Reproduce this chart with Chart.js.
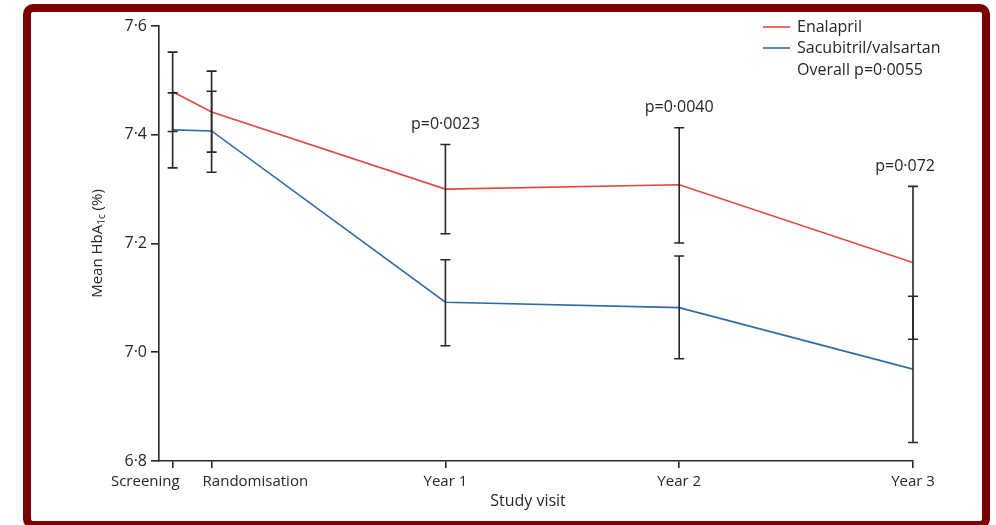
<!DOCTYPE html>
<html>
<head>
<meta charset="utf-8">
<script src="https://cdn.jsdelivr.net/npm/chart.js@4.4.1/dist/chart.umd.min.js"></script>
<style>
  html, body { margin: 0; padding: 0; background: #fff; }
  #wrap { position: relative; width: 996px; height: 525px; overflow: hidden; }
  #hba1cChart { position: absolute; left: 0; top: 0; }
  #frame {
    position: absolute; left: 23px; top: 4px; width: 967px; height: 525px;
    box-sizing: border-box; border: 8px solid #7b0000; border-radius: 10px;
    pointer-events: none;
  }
</style>
</head>
<body>
<div id="wrap">
  <canvas id="hba1cChart" width="996" height="525"></canvas>
  <div id="frame"></div>
</div>
<script>
// visits and their time from randomisation (months)
const visits = ['Screening', 'Randomisation', 'Year 1', 'Year 2', 'Year 3'];
const visitMonths = [-2, 0, 12, 24, 36];

// mean HbA1c (%) with 95% CI
const enalaprilMean  = [7.479, 7.442, 7.300, 7.308, 7.165];
const enalaprilLower = [7.406, 7.368, 7.218, 7.201, 7.024];
const enalaprilUpper = [7.552, 7.517, 7.382, 7.413, 7.305];

const sacubitrilMean  = [7.409, 7.407, 7.092, 7.082, 6.969];
const sacubitrilLower = [7.339, 7.331, 7.012, 6.988, 6.834];
const sacubitrilUpper = [7.477, 7.480, 7.170, 7.177, 7.103];

const pValues = [null, null, 'p=0·0023', 'p=0·0040', 'p=0·072'];
const overallP = 'Overall p=0·0055';
const yTicks = [6.8, 7.0, 7.2, 7.4, 7.6];

const FONT = '"Open Sans", "Noto Sans", sans-serif';
const INK = '#262626';
const RED = '#e0483d';
const BLUE = '#2f6aa9';

const fmt = v => v.toFixed(1).replace('.', '·');

const series = [
    { label: 'Enalapril', color: RED, mean: enalaprilMean, lower: enalaprilLower, upper: enalaprilUpper },
    { label: 'Sacubitril/valsartan', color: BLUE, mean: sacubitrilMean, lower: sacubitrilLower, upper: sacubitrilUpper }
];

const errorBars = {
    id: 'errorBars',
    afterDatasetsDraw(chart) {
        const { ctx, scales: { x, y } } = chart;
        ctx.save();
        ctx.strokeStyle = INK;
        ctx.lineWidth = 1.6;
        series.forEach(s => {
            visitMonths.forEach((m, i) => {
                const px = x.getPixelForValue(m);
                const top = y.getPixelForValue(s.upper[i]);
                const bot = y.getPixelForValue(s.lower[i]);
                ctx.beginPath();
                ctx.moveTo(px, top); ctx.lineTo(px, bot);
                ctx.moveTo(px - 5, top); ctx.lineTo(px + 5, top);
                ctx.moveTo(px - 5, bot); ctx.lineTo(px + 5, bot);
                ctx.stroke();
            });
        });
        ctx.restore();
    }
};

const annotations = {
    id: 'annotations',
    afterDraw(chart) {
        const { ctx, chartArea, scales: { x, y } } = chart;
        ctx.save();
        ctx.fillStyle = INK;
        ctx.font = '16px ' + FONT;
        ctx.textBaseline = 'middle';

        // p values above each visit's error bars
        ctx.textAlign = 'center';
        pValues.forEach((p, i) => {
            if (!p) return;
            const top = Math.max(enalaprilUpper[i], sacubitrilUpper[i]);
            const w = ctx.measureText(p).width;
            let px = x.getPixelForValue(visitMonths[i]);
            px = Math.min(px, chartArea.right + 22 - w / 2);
            ctx.fillText(p, px, y.getPixelForValue(top) - 20);
        });

        // x axis title
        ctx.fillText('Study visit', (chartArea.left + chartArea.right) / 2 - 8, chartArea.bottom + 40);

        // x tick labels; the first two sit close together so they are split apart
        ctx.font = '15px ' + FONT;
        const labelY = chartArea.bottom + 21;
        visits.forEach((v, i) => {
            const px = x.getPixelForValue(visitMonths[i]);
            if (i === 0) { ctx.textAlign = 'right'; ctx.fillText(v, px + 7, labelY); }
            else if (i === 1) { ctx.textAlign = 'left'; ctx.fillText(v, px - 9, labelY); }
            else { ctx.textAlign = 'center'; ctx.fillText(v, px, labelY); }
        });

        // y axis title with subscript
        const parts = [['Mean HbA', 15, 0], ['1c', 10, 4], [' (%)', 15, 0]];
        const widths = parts.map(([t, s]) => { ctx.font = s + 'px ' + FONT; return ctx.measureText(t).width; });
        const total = widths.reduce((a, b) => a + b, 0);
        ctx.translate(98, (chartArea.top + chartArea.bottom) / 2);
        ctx.rotate(-Math.PI / 2);
        ctx.textAlign = 'left';
        let cx = -total / 2;
        parts.forEach(([t, s, dy], k) => {
            ctx.font = s + 'px ' + FONT;
            ctx.fillText(t, cx, dy);
            cx += widths[k];
        });
        ctx.setTransform(1, 0, 0, 1, 0, 0);

        // legend
        ctx.font = '16px ' + FONT;
        ctx.textAlign = 'left';
        const lx = chartArea.right - 150;
        series.forEach((s, i) => {
            const ly = 27 + i * 21;
            ctx.strokeStyle = s.color;
            ctx.lineWidth = 1.6;
            ctx.beginPath();
            ctx.moveTo(lx, ly); ctx.lineTo(lx + 27, ly);
            ctx.stroke();
            ctx.fillText(s.label, lx + 34, ly);
        });
        ctx.fillText(overallP, lx + 34, 27 + 2 * 21.5);
        ctx.restore();
    }
};

new Chart(document.getElementById('hba1cChart'), {
    type: 'line',
    data: {
        datasets: series.map(s => ({
            label: s.label,
            data: visitMonths.map((m, i) => ({ x: m, y: s.mean[i] })),
            borderColor: s.color,
            borderWidth: 1.6,
            pointRadius: 0,
            tension: 0
        }))
    },
    options: {
        responsive: false,
        animation: false,
        layout: { padding: { left: 0, top: 26, right: 83, bottom: 0 } },
        plugins: { legend: { display: false }, tooltip: { enabled: false } },
        scales: {
            x: {
                type: 'linear',
                min: -2.7,
                max: 36,
                afterBuildTicks: scale => { scale.ticks = visitMonths.map(v => ({ value: v })); },
                afterFit: scale => { scale.height = 64; },
                ticks: { display: false },
                grid: { drawOnChartArea: false, drawTicks: true, tickLength: 7, color: INK, lineWidth: 1.6 },
                border: { display: true, color: INK, width: 1.6 }
            },
            y: {
                min: 6.8,
                max: 7.6,
                afterBuildTicks: scale => { scale.ticks = yTicks.map(v => ({ value: v })); },
                afterFit: scale => { scale.width = 159; },
                ticks: { callback: v => fmt(v), color: INK, font: { family: FONT, size: 16 }, padding: 4 },
                grid: { drawOnChartArea: false, drawTicks: true, tickLength: 8, color: INK, lineWidth: 1.6 },
                border: { display: true, color: INK, width: 1.6 }
            }
        }
    },
    plugins: [errorBars, annotations]
});
</script>
</body>
</html>
